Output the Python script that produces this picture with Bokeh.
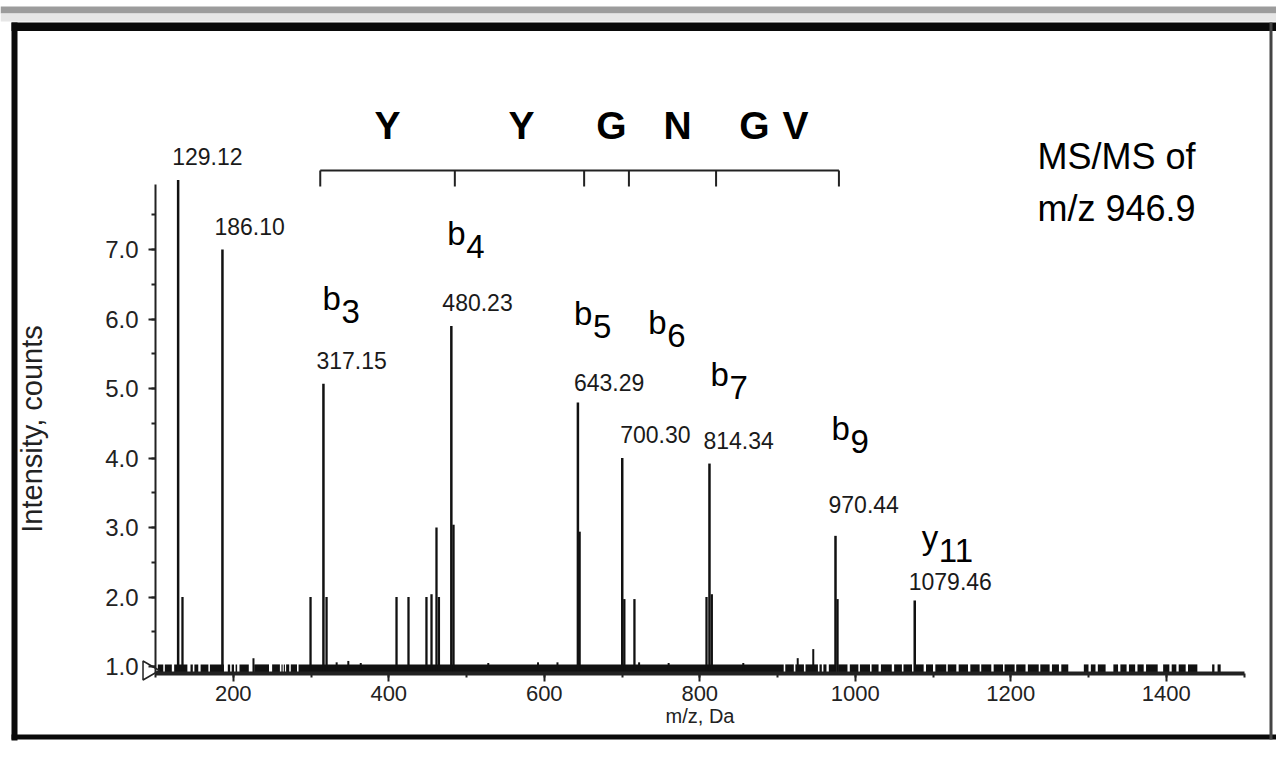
import math
from bokeh.plotting import figure
from bokeh.models import Range1d, SingleIntervalTicker, PrintfTickFormatter, BoxAnnotation
from bokeh.core.properties import value
from bokeh.embed import file_html
from bokeh.resources import INLINE

# ---------------- data ----------------
# labelled fragment peaks (m/z as drawn, intensity, label text)
major_mz = [129.12, 186.10, 316.0, 480.5, 643.29, 700.30, 812.5, 974.6, 1076.5]
major_int = [8.0, 7.0, 5.07, 5.9, 4.8, 4.0, 3.92, 2.88, 1.95]
major_label = ["129.12", "186.10", "317.15", "480.23", "643.29", "700.30", "814.34", "970.44", "1079.46"]

# unlabelled peaks
minor_mz = [134.7, 299.4, 320.0, 410.0, 425.4, 448.5, 455.0, 461.4, 464.5, 483.3,
            645.5, 703.0, 716.0, 808.7, 815.5, 977.2]
minor_int = [2.0, 2.0, 2.0, 2.0, 2.0, 2.0, 2.04, 3.0, 2.0, 3.04,
             2.94, 1.97, 1.97, 2.0, 2.04, 1.97]

# small noise spikes above the baseline noise
spike_mz = [226, 333, 348, 364, 528, 592, 617, 722, 760, 856, 926, 946]
spike_int = [1.12, 1.06, 1.08, 1.05, 1.05, 1.06, 1.06, 1.06, 1.05, 1.05, 1.12, 1.25]

# baseline noise: runs of dense noise (m/z from, to)
band_lo = [103, 112, 124, 145, 150, 158, 170, 193, 198, 203, 208, 227, 250, 262, 265, 268, 274,
           284,
           910, 923, 936, 954, 959, 966, 978, 993, 1006, 1021, 1033, 1050, 1062, 1076, 1091, 1103,
           1119, 1133, 1148, 1162, 1178, 1192, 1207, 1222, 1238, 1253, 1265,
           1294, 1303, 1312, 1332, 1341, 1352, 1363, 1374, 1396, 1407, 1416, 1428, 1459, 1466]
band_hi = [110, 121, 141, 148, 155, 168, 188, 196, 201, 205, 220, 246, 260, 263.5, 266.5, 272, 282,
           908,
           921, 934, 952, 957, 963, 975, 990, 1004, 1019, 1030, 1047, 1060, 1073, 1088, 1100, 1117,
           1130, 1145, 1160, 1175, 1190, 1205, 1219, 1236, 1250, 1262, 1274,
           1300, 1309, 1322, 1338, 1349, 1360, 1371, 1389, 1404, 1413, 1425, 1440, 1462, 1470]
band_top = 1.03
baseline = 0.9

# fragment ion annotations (attached to labelled peaks by index)
ion_letter = ["b", "b", "b", "b", "b", "b", "y"]
ion_sub = ["3", "4", "5", "6", "7", "9", "11"]
ion_peak = [2, 3, 4, 5, 6, 7, 8]

# sequence ladder
seq_letters = ["Y", "Y", "G", "N", "G", "V"]
seq_mz = [398.4, 570.7, 686.5, 771.4, 870.4, 923.2]
bracket_mz = [311.9, 485.0, 651.3, 708.9, 821.0, 979.0]

info_lines = ["MS/MS of", "m/z 946.9"]

# ---------------- layout helpers ----------------
W, H = 1276, 766
PX_PER_MZ = 0.7775
PX_PER_INT = 69.5


def X(px):
    return 100 + (px - 155) / PX_PER_MZ


def Y(py):
    return 1 + (666 - py) / PX_PER_INT


def dxm(px):
    return px / PX_PER_MZ


def dyi(py):
    return py / PX_PER_INT


FONT = value("Liberation Sans")
INK = "#111111"

p = figure(width=W, height=H, x_range=Range1d(X(0), X(W)), y_range=Range1d(Y(H), Y(0)),
           output_backend="svg", toolbar_location=None, title_location=None,
           min_border=0, outline_line_color=None)
p.grid.visible = False
p.background_fill_color = "white"
p.border_fill_color = "white"

# axes placed inside the frame
xa = p.xaxis[0]
ya = p.yaxis[0]
xa.fixed_location = baseline
ya.fixed_location = 100
xa.bounds = (100, 1500)
ya.bounds = (baseline, 7.93)
xa.ticker = SingleIntervalTicker(interval=200, num_minor_ticks=2)
ya.ticker = SingleIntervalTicker(interval=1, num_minor_ticks=2)
ya.formatter = PrintfTickFormatter(format="%.1f")
for ax in (xa, ya):
    ax.major_tick_in = 0
    ax.minor_tick_in = 0
    ax.major_label_text_font = "Liberation Sans"
    ax.major_label_text_color = "#222222"
    ax.axis_label_text_font = "Liberation Sans"
    ax.axis_label_text_font_style = "normal"
    ax.axis_label_text_color = "#222222"
    ax.major_tick_line_color = "#222222"
    ax.minor_tick_line_color = "#222222"
    ax.axis_line_color = "#222222"
xa.axis_line_width = 4
xa.major_tick_out = 8
xa.minor_tick_out = 4
xa.major_tick_line_width = 2
xa.minor_tick_line_width = 2
xa.major_label_text_font_size = "22px"
xa.major_label_standoff = 5
xa.axis_label = "m/z, Da"
xa.axis_label_text_font_size = "20px"
xa.axis_label_standoff = 0
ya.axis_line_width = 2
ya.major_tick_out = 7
ya.minor_tick_out = 4
ya.major_tick_line_width = 2
ya.minor_tick_line_width = 2
ya.major_label_text_font_size = "24px"
ya.major_label_standoff = 10
ya.axis_label = "Intensity, counts"
ya.axis_label_text_font_size = "29px"
ya.axis_label_standoff = 54

# baseline noise
p.quad(left=band_lo, right=band_hi, bottom=baseline, top=band_top,
       fill_color=INK, line_color=None)
p.segment(x0=spike_mz, y0=[baseline] * len(spike_mz), x1=spike_mz, y1=spike_int,
          line_color=INK, line_width=2)

# peaks
p.segment(x0=minor_mz, y0=[baseline] * len(minor_mz), x1=minor_mz, y1=minor_int,
          line_color=INK, line_width=2.3)
p.segment(x0=major_mz, y0=[baseline] * len(major_mz), x1=major_mz, y1=major_int,
          line_color=INK, line_width=2.5)

# peak labels
lab_dx = [-6, -8, -7, -9, -4, -2, -6, -7, -6]
lab_dy = [24, 23, 23, 23, 20, 24, 23, 31, 19]
p.text(x=[m + dxm(d) for m, d in zip(major_mz, lab_dx)],
       y=[v + dyi(d) for v, d in zip(major_int, lab_dy)],
       text=major_label, text_font=FONT, text_font_size="23px", text_color="#1a1a1a",
       text_align="left", text_baseline="alphabetic")

# ion labels (letter + subscript)
ion_dx = [-1, -4, -4, 26, 1, -4, 7]
ion_dy = [85, 92, 89, 136, 89, 107, 63]
ion_w = {"b": 19, "y": 17}
lx = [major_mz[i] + dxm(d) for i, d in zip(ion_peak, ion_dx)]
ly = [major_int[i] + dyi(d) for i, d in zip(ion_peak, ion_dy)]
p.text(x=lx, y=ly, text=ion_letter, text_font=FONT, text_font_size="33px",
       text_color="black", text_align="left", text_baseline="alphabetic")
p.text(x=[x + dxm(ion_w[c]) for x, c in zip(lx, ion_letter)], y=[y - dyi(13) for y in ly],
       text=ion_sub, text_font=FONT, text_font_size="33px",
       text_color="black", text_align="left", text_baseline="alphabetic")

# sequence ladder
br_y = Y(170)
br_tick = Y(186)
p.segment(x0=[bracket_mz[0]], y0=[br_y], x1=[bracket_mz[-1]], y1=[br_y],
          line_color="#222222", line_width=2)
p.segment(x0=bracket_mz, y0=[br_y] * len(bracket_mz), x1=bracket_mz, y1=[br_tick] * len(bracket_mz),
          line_color="#222222", line_width=2)
p.text(x=seq_mz, y=[Y(125)] * len(seq_mz), text=seq_letters, text_font=FONT,
       text_font_size="39px", text_font_style="bold", text_color="black",
       text_align="center", text_baseline="alphabetic")

# MS/MS info
p.text(x=[X(1037)] * 2, y=[Y(156), Y(208)], text=info_lines, text_font=FONT,
       text_font_size="36px", text_color="black", text_align="left", text_baseline="alphabetic")

# small triangle marker at the axis origin
p.scatter(x=[X(148)], y=[Y(670)], marker="triangle", angle=-math.pi / 2, size=19,
          fill_color=None, line_color="#222222", line_width=1.5)

# window frame decorations
def box(x0, x1, y0, y1, color):
    p.add_layout(BoxAnnotation(left=X(x0), right=X(x1), top=Y(y0), bottom=Y(y1),
                               fill_color=color, fill_alpha=1.0, line_alpha=0, level="overlay"))

box(0, W, 6, 13, "#9c9c9c")
box(0, W, 13, 21, "#e6e6e6")
box(11, W, 22, 30.5, "#0a0a0a")
box(11, 17, 22, 740, "#0a0a0a")
box(11, W, 734, 739, "#0a0a0a")
box(1269, 1272, 22, 739, "#444444")

open("out.html", "w").write(file_html(p, INLINE))
